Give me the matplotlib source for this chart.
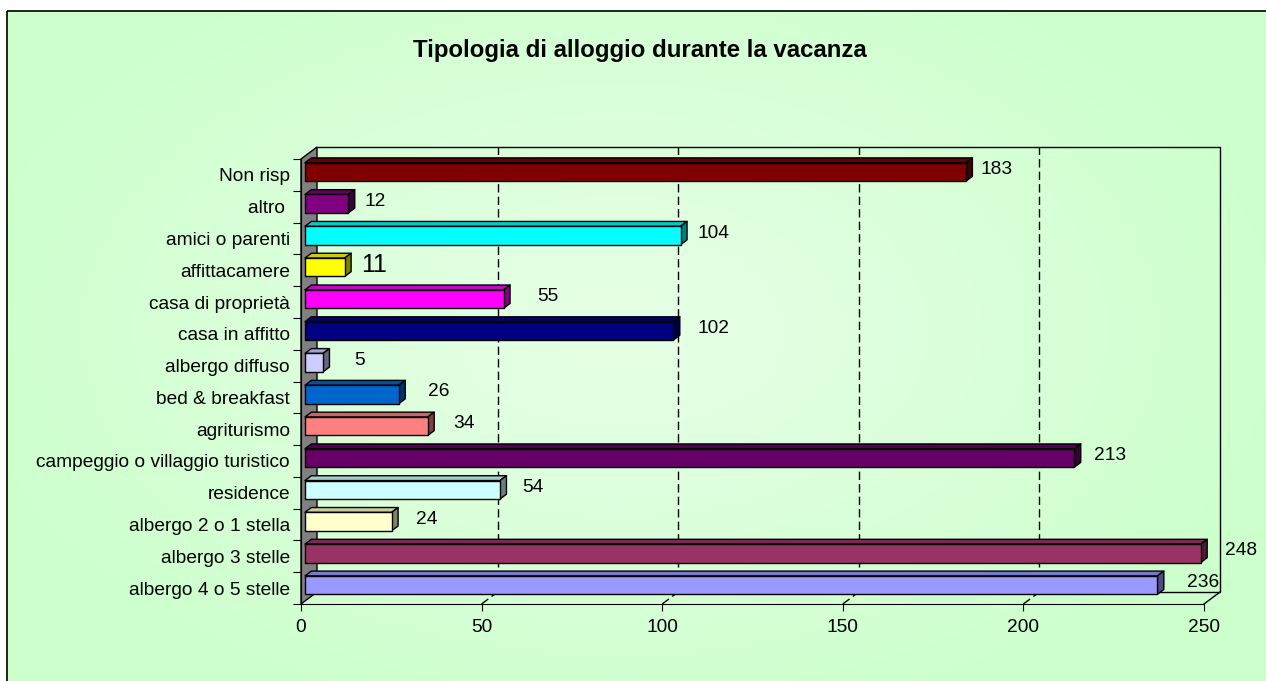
import matplotlib
matplotlib.use('Agg')
import matplotlib.pyplot as plt
from matplotlib.patches import Polygon, Rectangle
import numpy as np

plt.rcParams['font.family'] = ['Liberation Sans', 'DejaVu Sans']
plt.rcParams['lines.scale_dashes'] = False

# dati (dal basso verso l'alto)
categorie = ['albergo 4 o 5 stelle', 'albergo 3 stelle', 'albergo 2 o 1 stella',
             'residence', 'campeggio o villaggio turistico', 'agriturismo',
             'bed & breakfast', 'albergo diffuso', 'casa in affitto',
             'casa di proprietà', 'affittacamere', 'amici o parenti',
             'altro ', 'Non risp']
valori = [236, 248, 24, 54, 213, 34, 26, 5, 102, 55, 11, 104, 12, 183]
colori = ['#9999FF', '#993366', '#FFFFCC', '#CCFFFF', '#660066', '#FF8080',
          '#0066CC', '#CCCCFF', '#000080', '#FF00FF', '#FFFF00', '#00FFFF',
          '#800080', '#800000']
x_ticks = [0, 50, 100, 150, 200, 250]

# spostamento delle etichette dopo la barra (px) e dimensione font
label_dx = [23, 18, 18, 16, 13, 19, 23, 25, 18, 27, 10, 10, 10, 8]
label_fs = [13.8] * 14
label_fs[10] = 18

W, H = 1266, 681
fig = plt.figure(figsize=(W / 100, H / 100), dpi=100)

# sfondo con sfumatura
bg = fig.add_axes([0, 0, 1, 1], zorder=-10)
bg.set_xlim(0, W)
bg.set_ylim(H, 0)
bg.axis('off')
yy, xx = np.mgrid[10:H, 6:W]
r = np.sqrt(((xx - 620) / 700.0) ** 2 + ((yy - 330) / 420.0) ** 2)
t = np.clip(r, 0, 1) ** 1.2
c0 = np.array([0.90, 1.0, 0.90])
c1 = np.array([0.80, 1.0, 0.80])
img = c0[None, None, :] * (1 - t[..., None]) + c1[None, None, :] * t[..., None]
bg.imshow(img, extent=[6, W, H, 10], aspect='auto', interpolation='bilinear')
bg.add_patch(Rectangle((6.5, 10.5), W, H, fill=False, edgecolor='black', lw=1.2))

# area del grafico (piano frontale)
x0, x1, y0, y1 = 301, 1204, 159, 604
ax = fig.add_axes([x0 / W, 1 - y1 / H, (x1 - x0) / W, (y1 - y0) / H])
ax.set_xlim(0, 250)
ax.set_ylim(-0.5, 13.5)
ax.patch.set_alpha(0)

px_x = (x1 - x0) / 250.0
px_y = (y1 - y0) / 14.0
DX, DY = 16 / px_x, 12 / px_y  # profondita' in unita' dati


def P(x, y, d):
    return (x + d * DX, y + d * DY)


# pareti
ax.add_patch(Polygon([P(0, -0.5, 0), P(0, 13.5, 0), P(0, 13.5, 1), P(0, -0.5, 1)],
                     closed=True, facecolor='#808080', edgecolor='black', lw=1,
                     clip_on=False, zorder=1))
ax.plot(*zip(P(0, 13.5, 1), P(250, 13.5, 1), P(250, -0.5, 1), P(0, -0.5, 1)),
        color='black', lw=1, clip_on=False, zorder=1)
ax.plot(*zip(P(250, -0.5, 0), P(250, -0.5, 1)), color='black', lw=1, clip_on=False, zorder=1)
for v in x_ticks[1:-1]:
    ax.plot(*zip(P(v, -0.5, 1), P(v, 13.5, 1)), color='black', lw=1,
            ls=(0, (6, 3)), clip_on=False, zorder=1)
    ax.plot(*zip(P(v, -0.5, 0), P(v, -0.5, 1)), color='black', lw=1,
            ls=(0, (6, 3)), clip_on=False, zorder=1)


def shade(c, f):
    rgb = np.array(matplotlib.colors.to_rgb(c))
    return tuple(rgb * f)


# barre 3D
h = 0.29
da, db = 0.25, 0.65
for i in range(len(valori) - 1, -1, -1):
    v, c = valori[i], colori[i]
    yb, yt = i - h, i + h
    front = [P(0, yb, da), P(v, yb, da), P(v, yt, da), P(0, yt, da)]
    top = [P(0, yt, da), P(v, yt, da), P(v, yt, db), P(0, yt, db)]
    side = [P(v, yb, da), P(v, yb, db), P(v, yt, db), P(v, yt, da)]
    for poly, f in ((top, 0.8), (side, 0.5), (front, 1.0)):
        ax.add_patch(Polygon(poly, closed=True, facecolor=shade(c, f),
                             edgecolor='black', lw=1, clip_on=False, zorder=3,
                             joinstyle='round'))
    lx, ly = P(v, i, db)
    ax.annotate(str(v), xy=(lx, i + 0.5 * (da + db) * DY), xytext=(label_dx[i] * 0.72, 0),
                textcoords='offset points', ha='left', va='center',
                fontsize=label_fs[i], color='black', zorder=4, annotation_clip=False)

# assi
for s in ('top', 'right'):
    ax.spines[s].set_visible(False)
ax.spines['left'].set_zorder(2)
ax.spines['bottom'].set_zorder(2)
ax.set_xticks(x_ticks)
ax.tick_params(axis='x', direction='out', length=5, width=0.8, pad=6, labelsize=13.8)
ax.set_yticks(np.arange(-0.5, 14, 1))
ax.set_yticklabels([])
ax.set_yticks(np.arange(14), minor=True)
ax.set_yticklabels(categorie, minor=True)
ax.tick_params(axis='y', which='major', direction='out', length=6, width=0.8)
ax.tick_params(axis='y', which='minor', length=0, pad=8, labelsize=13.8)

fig.text(640 / W, 1 - 56.7 / H, 'Tipologia di alloggio durante la vacanza',
         ha='center', va='baseline', fontsize=17.3, fontweight='bold')

fig.savefig('out.png', dpi=100)
